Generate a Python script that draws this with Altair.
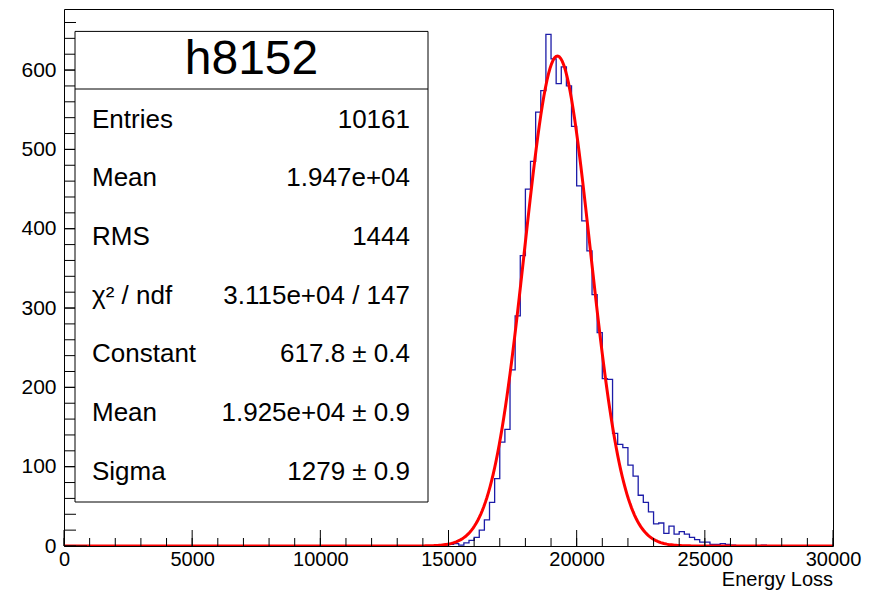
import altair as alt
import pandas as pd

FONT = "Liberation Sans"

# ---- data ----
bin_width = 200
n_bins = 150
counts = [0] * 75 + [
    2, 3, 1, 4, 7, 11, 20, 33, 55, 85,
    131, 147, 222, 290, 366,
    450, 485, 547, 574, 645,
    614, 583, 604, 580, 529,
    454, 410, 372, 317, 269,
    211, 210, 142, 128, 124,
    102, 88, 64, 55, 43,
    28, 29, 16, 25, 15,
    18, 15, 11, 8, 5,
    5, 2, 2, 3, 2, 1,
    0, 0, 0, 0, 0,
    1,
] + [0] * 13
edges = [i * bin_width for i in range(n_bins)]

# fit parameters shown in the stats box
fit_constant = 617.8
fit_mean = 19250
fit_sigma = 1279

x_labels = [0, 5000, 10000, 15000, 20000, 25000, 30000]
y_labels = [0, 100, 200, 300, 400, 500, 600]
x_minor = list(range(0, 30001, 1000))
x_major = list(range(0, 30001, 5000))
y_minor = list(range(0, 661, 20))
y_major = list(range(0, 601, 100))

title_text = "h8152"
stat_labels = ["Entries", "Mean", "RMS", "\u03c7\u00b2 / ndf", "Constant", "Mean", "Sigma"]
stat_values = ["10161", "1.947e+04", "1444", "3.115e+04 / 147",
               "617.8 \u00b1 0.4", "1.925e+04 \u00b1 0.9", "1279 \u00b1 0.9"]
x_title = "Energy Loss"

# ---- layout ----
W, H = 769, 537
x_scale = alt.Scale(domain=[0, 30000], nice=False, zero=False)
y_scale = alt.Scale(domain=[0, 677], nice=False, zero=False)
x_axis = alt.Axis(values=x_labels, format="d", ticks=False, domain=False, grid=False,
                  labelFlush=False, labelOverlap=False, labelFont=FONT, labelFontSize=20,
                  labelColor="black", labelPadding=3, title=None)
y_axis = alt.Axis(values=y_labels, format="d", ticks=False, domain=False, grid=False,
                  labelFlush=False, labelOverlap=False, labelFont=FONT, labelFontSize=21,
                  labelColor="black", labelPadding=8, title=None)

hist_df = pd.DataFrame({"edge": edges + [30000], "count": counts + [counts[-1]]})

hist = alt.Chart(hist_df).mark_line(
    interpolate="step-after", color="#1c1ca8", strokeWidth=1.3, clip=True
).encode(
    x=alt.X("edge:Q", scale=x_scale, axis=x_axis),
    y=alt.Y("count:Q", scale=y_scale, axis=y_axis),
)

fit = alt.Chart(alt.sequence(0, 30001, 60, as_="xv")).transform_calculate(
    fy=f"{fit_constant}*exp(-0.5*pow((datum.xv-{fit_mean})/{fit_sigma},2))"
).mark_line(color="#ff0000", strokeWidth=3, clip=True).encode(
    x=alt.X("xv:Q", scale=x_scale, axis=x_axis),
    y=alt.Y("fy:Q", scale=y_scale, axis=y_axis),
)

def xticks(vals, length):
    return alt.Chart(pd.DataFrame({"t": vals})).mark_rule(color="black", strokeWidth=1).encode(
        x=alt.X("t:Q", scale=x_scale, axis=x_axis),
        y=alt.value(H), y2=alt.value(H - length),
    )

def yticks(vals, length):
    return alt.Chart(pd.DataFrame({"t": vals})).mark_rule(color="black", strokeWidth=1).encode(
        y=alt.Y("t:Q", scale=y_scale, axis=y_axis),
        x=alt.value(0), x2=alt.value(length),
    )

one = pd.DataFrame({"a": [0]})
box_l, box_r, box_t, box_b = 11, 364, 22.4, 493
box = alt.Chart(one).mark_rect(fill="white", stroke="black", strokeWidth=1).encode(
    x=alt.value(box_l), x2=alt.value(box_r), y=alt.value(box_t), y2=alt.value(box_b)
)
sep = alt.Chart(one).mark_rule(color="black", strokeWidth=1).encode(
    x=alt.value(box_l), x2=alt.value(box_r), y=alt.value(80)
)
title = alt.Chart(pd.DataFrame({"s": [title_text]})).mark_text(
    font=FONT, fontSize=48, align="center", baseline="middle", color="black"
).encode(text="s:N", x=alt.value((box_l + box_r) / 2), y=alt.value(51))

texts = []
for i, (lab, val) in enumerate(zip(stat_labels, stat_values)):
    ypos = 110.7 + i * 58.67
    texts.append(alt.Chart(pd.DataFrame({"s": [lab]})).mark_text(
        font=FONT, fontSize=26, align="left", baseline="middle", color="black"
    ).encode(text="s:N", x=alt.value(28), y=alt.value(ypos)))
    texts.append(alt.Chart(pd.DataFrame({"s": [val]})).mark_text(
        font=FONT, fontSize=26, align="right", baseline="middle", color="black"
    ).encode(text="s:N", x=alt.value(346), y=alt.value(ypos)))

xt = alt.Chart(pd.DataFrame({"s": [x_title]})).mark_text(
    font=FONT, fontSize=20, align="right", baseline="alphabetic", color="black"
).encode(text="s:N", x=alt.value(W), y=alt.value(577))

chart = alt.layer(
    hist, fit,
    xticks(x_minor, 8), xticks(x_major, 16),
    yticks(y_minor, 12), yticks(y_major, 23),
    box, sep, title, *texts, xt,
).properties(
    width=W, height=H,
    padding={"left": 56, "top": 1, "right": 35, "bottom": 46},
    autosize=alt.AutoSizeParams(type="none"),
    background="white",
).configure_view(stroke="black", strokeWidth=1)

chart.save("out.html", embed_options={"renderer": "svg", "actions": False})
